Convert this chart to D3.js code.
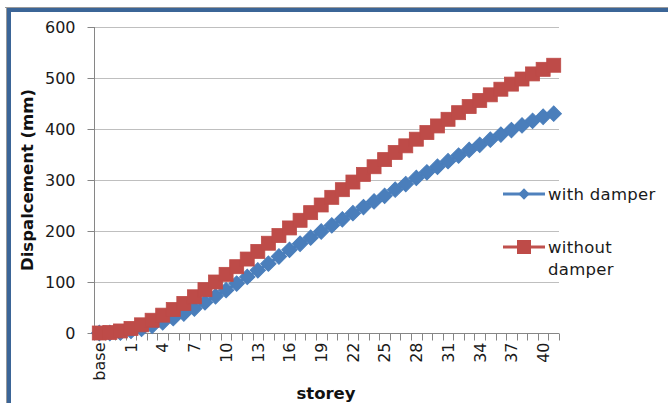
<!DOCTYPE html>
<html><head><meta charset="utf-8">
<script src="https://cdn.jsdelivr.net/npm/d3@7"></script>
<style>
html,body{margin:0;padding:0;background:#fff;}
svg{display:block;font-family:"DejaVu Sans",sans-serif;}
</style></head>
<body><svg id="c" width="668" height="403"></svg>
<script>
const categories = ["base","B1","G"].concat(d3.range(1,42).map(String));
const withDamper = [0,0,1,4,8,14,21,29,38,48,60,72,84,97,110,123,136,150,163,175,187,199,211,223,235,247,258,269,281,292,304,315,326,337,348,359,369,379,389,398,407,416,424,430];
const withoutDamper = [0,1,4,9,16,25,35,46,58,71,85,100,115,130,145,160,176,191,206,221,236,251,266,281,296,311,326,340,354,367,380,393,406,419,432,444,456,467,478,488,498,508,517,525];
const yTicks = [0,100,200,300,400,500,600];
const seriesNames = ["with damper","without damper"];
const xTitle = "storey";
const yTitle = "Dispalcement (mm)";

const svg = d3.select("#c");
const L = 94, R = 559, T = 27, B = 333;
const FONT = "DejaVu Sans, sans-serif";

// frame
svg.append("line").attr("x1",5).attr("x2",668).attr("y1",7.5).attr("y2",7.5).attr("stroke","#9a9a9a").attr("stroke-width",1);
svg.append("line").attr("x1",6.5).attr("x2",6.5).attr("y1",7).attr("y2",403).attr("stroke","#9a9a9a").attr("stroke-width",1);
svg.append("line").attr("x1",7).attr("x2",668).attr("y1",10).attr("y2",10).attr("stroke","#3B6597").attr("stroke-width",4);
svg.append("line").attr("x1",9).attr("x2",9).attr("y1",8).attr("y2",403).attr("stroke","#3B6597").attr("stroke-width",4);

const x = d3.scaleBand().domain(categories).range([L,R]).paddingInner(0).paddingOuter(0);
const y = d3.scaleLinear().domain([0,600]).range([B,T]);

// gridlines
svg.append("g").selectAll("line").data(yTicks.filter(d=>d>0)).join("line")
  .attr("x1",L).attr("x2",R).attr("y1",d=>Math.round(y(d))+0.5).attr("y2",d=>Math.round(y(d))+0.5)
  .attr("stroke","#BFBFBF").attr("stroke-width",1.2);

// y axis
const ya = svg.append("g").attr("transform",`translate(${L+0.5},0)`)
  .call(d3.axisLeft(y).tickValues(yTicks).tickSize(7).tickPadding(12).tickFormat(d3.format("d")));
ya.select(".domain").attr("stroke","#868686").attr("d",`M0,${B}V${T}`);
ya.selectAll(".tick line").attr("stroke","#868686");
ya.selectAll(".tick").attr("transform",d=>`translate(0,${Math.round(y(d))+0.5})`);
ya.selectAll("text").attr("font-size",16).attr("fill","#1a1a1a").attr("font-family",FONT);

// x axis
const xa = svg.append("g").attr("transform",`translate(0,${B+0.5})`)
  .call(d3.axisBottom(x).tickSize(0).tickFormat((d,i)=> i%3===0 ? d : ""));
xa.select(".domain").attr("stroke","#868686").attr("d",`M${L},0H${R}`);
const bounds = categories.map(c=>x(c)).concat([R]);
xa.append("g").selectAll("line").data(bounds).join("line")
  .attr("x1",d=>Math.round(d)+0.5).attr("x2",d=>Math.round(d)+0.5).attr("y1",0).attr("y2",7)
  .attr("stroke","#868686");
xa.selectAll(".tick text")
  .attr("transform","rotate(-90)")
  .attr("text-anchor","end").attr("x",-9).attr("y",0).attr("dy","0.36em")
  .attr("font-size",16).attr("fill","#1a1a1a").attr("font-family",FONT);

const cx = c => x(c) + x.bandwidth()/2;
const colors = ["#4F81BD","#C0504D"];
const data = [withDamper, withoutDamper];

const line = d3.line().x((d,i)=>cx(categories[i])).y(d=>y(d));
data.forEach((s,k)=>{
  svg.append("path").datum(s).attr("d",line).attr("fill","none").attr("stroke",colors[k]).attr("stroke-width",3);
});
// markers
svg.append("g").selectAll("path").data(withDamper).join("path")
  .attr("d",d3.symbol().type(d3.symbolSquare).size(118))
  .attr("transform",(d,i)=>`translate(${cx(categories[i])},${y(d)}) rotate(45)`)
  .attr("fill","#4A7EBB").attr("stroke","#4A7EBB").attr("stroke-width",1);
svg.append("g").selectAll("rect").data(withoutDamper).join("rect")
  .attr("x",(d,i)=>cx(categories[i])-7).attr("y",d=>y(d)-7).attr("width",14).attr("height",14)
  .attr("fill","#BE4B48").attr("stroke","#BE4B48").attr("stroke-width",0.8);

// titles
svg.append("text").attr("x",326).attr("y",399).attr("text-anchor","middle").attr("font-family",FONT)
  .attr("font-size",16.5).attr("font-weight","bold").attr("fill","#111").text(xTitle);
svg.append("text").attr("transform","translate(33,180) rotate(-90)").attr("text-anchor","middle").attr("font-family",FONT)
  .attr("font-size",16.5).attr("font-weight","bold").attr("fill","#111").text(yTitle);

// legend
const lg = svg.append("g");
lg.append("line").attr("x1",503).attr("x2",545).attr("y1",194).attr("y2",194).attr("stroke",colors[0]).attr("stroke-width",3);
lg.append("path").attr("d",d3.symbol().type(d3.symbolSquare).size(64)).attr("transform","translate(524,194) rotate(45)").attr("fill","#4A7EBB");
lg.append("text").attr("x",548).attr("y",200).attr("font-size",16.5).attr("letter-spacing",0.3).attr("fill","#1a1a1a").attr("font-family",FONT).text(seriesNames[0]);
lg.append("line").attr("x1",503).attr("x2",545).attr("y1",247).attr("y2",247).attr("stroke",colors[1]).attr("stroke-width",3);
lg.append("rect").attr("x",517).attr("y",240).attr("width",14).attr("height",14).attr("fill","#BE4B48");
const t2 = lg.append("text").attr("font-size",16.5).attr("letter-spacing",0.3).attr("fill","#1a1a1a").attr("font-family",FONT);
t2.append("tspan").attr("x",548).attr("y",253).text("without");
t2.append("tspan").attr("x",548).attr("y",275).text("damper");
</script></body></html>
